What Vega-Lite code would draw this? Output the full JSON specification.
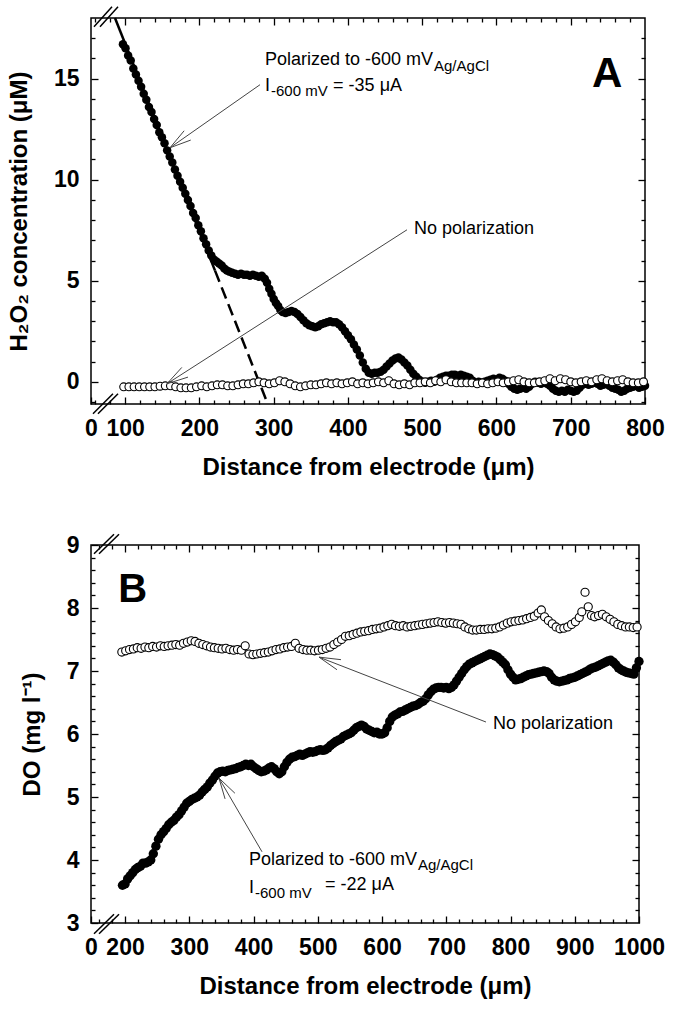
{
"$schema": "https://vega.github.io/schema/vega-lite/v6.json",
"background": "white",
"padding": {"left": 6, "top": 5, "right": 5, "bottom": 5},
"bounds": "flush",
"spacing": 141,
"config": {
 "view": {"stroke": "black", "strokeWidth": 1.5},
 "axis": {"domain": false, "grid": false, "tickColor": "black", "tickWidth": 1.3, "labelColor": "black", "labelFont": "Liberation Sans", "labelFontSize": 23, "labelFontWeight": "bold", "labelFlush": false, "labelOverlap": false, "titleColor": "black", "titleFont": "Liberation Sans", "titleFontSize": 24, "titleFontWeight": "bold"},
 "text": {"font": "Liberation Sans", "color": "black"}
},
"datasets": {
 "A_pol": [
  {"x":97,"y":16.7},{"x":100.5,"y":16.5},{"x":104,"y":16.15},{"x":107.5,"y":15.9},{"x":111,"y":15.5},{"x":114.5,"y":15.2},{"x":118,"y":14.9},{"x":121.5,"y":14.6},{"x":125,"y":14.25},{"x":128.5,"y":13.95},{"x":132,"y":13.6},{"x":135.5,"y":13.35},{"x":139,"y":13.0},{"x":142.5,"y":12.7},{"x":146,"y":12.35},{"x":149.5,"y":12.1},{"x":153,"y":11.8},{"x":156.5,"y":11.45},{"x":160,"y":11.15},{"x":163.5,"y":10.85},{"x":167,"y":10.5},{"x":170.5,"y":10.2},{"x":174,"y":9.9},{"x":177.5,"y":9.6},{"x":181,"y":9.3},{"x":184.5,"y":9.0},{"x":188,"y":8.7},{"x":191.5,"y":8.35},{"x":195,"y":8.1},{"x":198.5,"y":7.75},{"x":202,"y":7.45},{"x":205.5,"y":7.1},{"x":209,"y":6.8},{"x":212.5,"y":6.5},{"x":216,"y":6.25},{"x":219.5,"y":6.05},{"x":223,"y":5.95},{"x":226.5,"y":5.85},{"x":230,"y":5.75},{"x":233.5,"y":5.6},{"x":237,"y":5.5},{"x":240.5,"y":5.45},{"x":244,"y":5.4},{"x":248,"y":5.35},{"x":252,"y":5.3},{"x":256,"y":5.35},{"x":260,"y":5.3},{"x":264,"y":5.3},{"x":268,"y":5.25},{"x":272,"y":5.3},{"x":276,"y":5.25},{"x":280,"y":5.2},{"x":284,"y":5.25},{"x":288,"y":5.1},{"x":291,"y":4.9},{"x":294,"y":4.6},{"x":297,"y":4.35},{"x":300,"y":4.1},{"x":303,"y":3.9},{"x":306,"y":3.75},{"x":309,"y":3.55},{"x":312,"y":3.45},{"x":316,"y":3.4},{"x":320,"y":3.45},{"x":324,"y":3.5},{"x":328,"y":3.45},{"x":332,"y":3.35},{"x":336,"y":3.2},{"x":340,"y":3.05},{"x":344,"y":2.9},{"x":348,"y":2.8},{"x":352,"y":2.75},{"x":356,"y":2.7},{"x":360,"y":2.75},{"x":364,"y":2.85},{"x":368,"y":2.9},{"x":372,"y":2.95},{"x":376,"y":3.0},{"x":380,"y":2.95},{"x":384,"y":2.95},{"x":388,"y":2.85},{"x":392,"y":2.7},{"x":396,"y":2.5},{"x":400,"y":2.3},{"x":404,"y":2.1},{"x":408,"y":1.85},{"x":412,"y":1.6},{"x":416,"y":1.3},{"x":420,"y":0.95},{"x":424,"y":0.65},{"x":428,"y":0.45},{"x":432,"y":0.4},{"x":436,"y":0.45},{"x":440,"y":0.45},{"x":444,"y":0.5},{"x":448,"y":0.6},{"x":452,"y":0.75},{"x":456,"y":0.9},{"x":460,"y":1.05},{"x":464,"y":1.15},{"x":468,"y":1.2},{"x":472,"y":1.1},{"x":476,"y":0.95},{"x":480,"y":0.8},{"x":484,"y":0.6},{"x":488,"y":0.4},{"x":492,"y":0.25},{"x":496,"y":0.1},{"x":500,"y":0.0},{"x":504,"y":-0.05},{"x":508,"y":0.0},{"x":512,"y":0.05},{"x":516,"y":0.0},{"x":520,"y":0.1},{"x":524,"y":0.2},{"x":528,"y":0.25},{"x":532,"y":0.3},{"x":536,"y":0.3},{"x":540,"y":0.35},{"x":544,"y":0.35},{"x":548,"y":0.3},{"x":552,"y":0.35},{"x":556,"y":0.3},{"x":560,"y":0.25},{"x":564,"y":0.2},{"x":568,"y":0.05},{"x":572,"y":-0.05},{"x":576,"y":0.0},{"x":580,"y":-0.05},{"x":584,"y":0.0},{"x":588,"y":0.05},{"x":592,"y":0.1},{"x":596,"y":0.15},{"x":600,"y":0.1},{"x":604,"y":0.2},{"x":608,"y":0.15},{"x":612,"y":0.05},{"x":616,"y":-0.1},{"x":620,"y":-0.25},{"x":624,"y":-0.35},{"x":628,"y":-0.4},{"x":632,"y":-0.35},{"x":636,"y":-0.3},{"x":640,"y":-0.35},{"x":644,"y":-0.25},{"x":648,"y":-0.1},{"x":652,"y":0.0},{"x":656,"y":-0.05},{"x":660,"y":-0.1},{"x":664,"y":-0.05},{"x":668,"y":-0.1},{"x":672,"y":-0.2},{"x":676,"y":-0.35},{"x":680,"y":-0.45},{"x":684,"y":-0.5},{"x":688,"y":-0.45},{"x":692,"y":-0.5},{"x":696,"y":-0.4},{"x":700,"y":-0.45},{"x":704,"y":-0.5},{"x":708,"y":-0.45},{"x":712,"y":-0.3},{"x":716,"y":-0.15},{"x":720,"y":-0.1},{"x":724,"y":-0.15},{"x":728,"y":-0.1},{"x":732,"y":-0.05},{"x":736,"y":-0.1},{"x":740,"y":-0.2},{"x":744,"y":-0.15},{"x":748,"y":-0.1},{"x":752,"y":-0.2},{"x":756,"y":-0.3},{"x":760,"y":-0.35},{"x":764,"y":-0.4},{"x":768,"y":-0.5},{"x":772,"y":-0.45},{"x":776,"y":-0.35},{"x":780,"y":-0.3},{"x":784,"y":-0.25},{"x":788,"y":-0.2},{"x":792,"y":-0.3},{"x":796,"y":-0.25},{"x":800,"y":-0.2}
 ],
 "A_none": [
  {"x":98,"y":-0.25},{"x":105,"y":-0.25},{"x":112,"y":-0.25},{"x":119,"y":-0.25},{"x":126,"y":-0.25},{"x":133,"y":-0.25},{"x":140,"y":-0.25},{"x":147,"y":-0.22},{"x":154,"y":-0.2},{"x":161,"y":-0.2},{"x":168,"y":-0.25},{"x":175,"y":-0.3},{"x":182,"y":-0.3},{"x":189,"y":-0.3},{"x":196,"y":-0.25},{"x":203,"y":-0.2},{"x":210,"y":-0.25},{"x":217,"y":-0.2},{"x":224,"y":-0.15},{"x":231,"y":-0.15},{"x":238,"y":-0.2},{"x":245,"y":-0.2},{"x":252,"y":-0.15},{"x":259,"y":-0.1},{"x":266,"y":-0.1},{"x":273,"y":-0.05},{"x":280,"y":0.0},{"x":287,"y":-0.05},{"x":294,"y":-0.1},{"x":301,"y":-0.05},{"x":308,"y":0.05},{"x":315,"y":0.0},{"x":322,"y":-0.1},{"x":329,"y":-0.2},{"x":336,"y":-0.25},{"x":343,"y":-0.2},{"x":350,"y":-0.15},{"x":357,"y":-0.15},{"x":364,"y":-0.1},{"x":371,"y":-0.05},{"x":378,"y":-0.1},{"x":385,"y":-0.05},{"x":392,"y":-0.1},{"x":399,"y":-0.05},{"x":406,"y":0.0},{"x":413,"y":-0.1},{"x":420,"y":-0.05},{"x":427,"y":-0.1},{"x":434,"y":-0.05},{"x":441,"y":0.0},{"x":448,"y":-0.05},{"x":455,"y":0.05},{"x":462,"y":-0.1},{"x":469,"y":-0.15},{"x":476,"y":-0.1},{"x":483,"y":-0.15},{"x":490,"y":-0.05},{"x":497,"y":-0.05},{"x":504,"y":0.0},{"x":511,"y":-0.05},{"x":518,"y":0.05},{"x":525,"y":0.0},{"x":532,"y":0.1},{"x":539,"y":0.0},{"x":546,"y":-0.05},{"x":553,"y":-0.05},{"x":560,"y":-0.05},{"x":567,"y":-0.05},{"x":574,"y":-0.1},{"x":581,"y":-0.05},{"x":588,"y":-0.1},{"x":595,"y":-0.05},{"x":602,"y":0.0},{"x":609,"y":-0.05},{"x":616,"y":0.0},{"x":623,"y":0.05},{"x":630,"y":0.1},{"x":637,"y":0.0},{"x":644,"y":-0.05},{"x":651,"y":-0.05},{"x":658,"y":0.0},{"x":665,"y":0.05},{"x":672,"y":0.15},{"x":679,"y":0.05},{"x":686,"y":0.15},{"x":693,"y":0.1},{"x":700,"y":0.0},{"x":707,"y":-0.05},{"x":714,"y":0.0},{"x":721,"y":0.05},{"x":728,"y":0.0},{"x":735,"y":0.1},{"x":742,"y":0.15},{"x":749,"y":0.05},{"x":756,"y":0.0},{"x":763,"y":0.05},{"x":770,"y":0.1},{"x":777,"y":0.0},{"x":784,"y":-0.05},{"x":791,"y":-0.05},{"x":798,"y":0.0}
 ],
 "B_pol": [
  {"x":196,"y":3.6},{"x":200,"y":3.62},{"x":204,"y":3.7},{"x":208,"y":3.75},{"x":212,"y":3.8},{"x":216,"y":3.85},{"x":220,"y":3.88},{"x":224,"y":3.9},{"x":228,"y":3.95},{"x":232,"y":3.95},{"x":236,"y":3.97},{"x":240,"y":4.0},{"x":244,"y":4.1},{"x":248,"y":4.22},{"x":252,"y":4.33},{"x":256,"y":4.4},{"x":260,"y":4.45},{"x":264,"y":4.5},{"x":268,"y":4.56},{"x":272,"y":4.6},{"x":276,"y":4.63},{"x":280,"y":4.68},{"x":284,"y":4.72},{"x":288,"y":4.78},{"x":292,"y":4.84},{"x":296,"y":4.9},{"x":300,"y":4.93},{"x":304,"y":4.96},{"x":308,"y":4.98},{"x":312,"y":5.0},{"x":316,"y":5.03},{"x":320,"y":5.08},{"x":324,"y":5.12},{"x":328,"y":5.16},{"x":332,"y":5.22},{"x":336,"y":5.27},{"x":340,"y":5.33},{"x":344,"y":5.38},{"x":348,"y":5.4},{"x":352,"y":5.41},{"x":356,"y":5.4},{"x":360,"y":5.42},{"x":364,"y":5.43},{"x":368,"y":5.44},{"x":372,"y":5.45},{"x":376,"y":5.47},{"x":380,"y":5.48},{"x":384,"y":5.5},{"x":388,"y":5.52},{"x":392,"y":5.5},{"x":396,"y":5.52},{"x":400,"y":5.48},{"x":404,"y":5.45},{"x":408,"y":5.42},{"x":412,"y":5.4},{"x":416,"y":5.41},{"x":420,"y":5.43},{"x":424,"y":5.46},{"x":428,"y":5.48},{"x":432,"y":5.45},{"x":436,"y":5.4},{"x":440,"y":5.37},{"x":444,"y":5.4},{"x":448,"y":5.48},{"x":452,"y":5.55},{"x":456,"y":5.6},{"x":460,"y":5.63},{"x":464,"y":5.64},{"x":468,"y":5.66},{"x":472,"y":5.68},{"x":476,"y":5.66},{"x":480,"y":5.68},{"x":484,"y":5.7},{"x":488,"y":5.72},{"x":492,"y":5.71},{"x":496,"y":5.72},{"x":500,"y":5.74},{"x":504,"y":5.75},{"x":508,"y":5.74},{"x":512,"y":5.75},{"x":516,"y":5.78},{"x":520,"y":5.82},{"x":524,"y":5.85},{"x":528,"y":5.88},{"x":532,"y":5.9},{"x":536,"y":5.92},{"x":540,"y":5.96},{"x":544,"y":5.98},{"x":548,"y":6.0},{"x":552,"y":6.02},{"x":556,"y":6.06},{"x":560,"y":6.1},{"x":564,"y":6.12},{"x":568,"y":6.14},{"x":572,"y":6.12},{"x":576,"y":6.08},{"x":580,"y":6.06},{"x":584,"y":6.04},{"x":588,"y":6.02},{"x":592,"y":6.03},{"x":596,"y":6.0},{"x":600,"y":6.0},{"x":604,"y":6.02},{"x":608,"y":6.1},{"x":612,"y":6.2},{"x":616,"y":6.27},{"x":620,"y":6.3},{"x":624,"y":6.32},{"x":628,"y":6.35},{"x":632,"y":6.36},{"x":636,"y":6.38},{"x":640,"y":6.4},{"x":644,"y":6.42},{"x":648,"y":6.44},{"x":652,"y":6.45},{"x":656,"y":6.47},{"x":660,"y":6.5},{"x":664,"y":6.52},{"x":668,"y":6.56},{"x":672,"y":6.62},{"x":676,"y":6.67},{"x":680,"y":6.71},{"x":684,"y":6.73},{"x":688,"y":6.74},{"x":692,"y":6.74},{"x":696,"y":6.73},{"x":700,"y":6.74},{"x":704,"y":6.72},{"x":708,"y":6.74},{"x":712,"y":6.78},{"x":716,"y":6.84},{"x":720,"y":6.9},{"x":724,"y":6.96},{"x":728,"y":7.02},{"x":732,"y":7.07},{"x":736,"y":7.11},{"x":740,"y":7.13},{"x":744,"y":7.15},{"x":748,"y":7.17},{"x":752,"y":7.19},{"x":756,"y":7.21},{"x":760,"y":7.23},{"x":764,"y":7.25},{"x":768,"y":7.27},{"x":772,"y":7.26},{"x":776,"y":7.24},{"x":780,"y":7.22},{"x":784,"y":7.18},{"x":788,"y":7.14},{"x":792,"y":7.1},{"x":796,"y":7.02},{"x":800,"y":6.95},{"x":804,"y":6.9},{"x":808,"y":6.86},{"x":812,"y":6.87},{"x":816,"y":6.88},{"x":820,"y":6.9},{"x":824,"y":6.92},{"x":828,"y":6.94},{"x":832,"y":6.95},{"x":836,"y":6.96},{"x":840,"y":6.97},{"x":844,"y":6.98},{"x":848,"y":6.99},{"x":852,"y":7.0},{"x":856,"y":6.99},{"x":860,"y":6.96},{"x":864,"y":6.9},{"x":868,"y":6.86},{"x":872,"y":6.84},{"x":876,"y":6.83},{"x":880,"y":6.84},{"x":884,"y":6.85},{"x":888,"y":6.86},{"x":892,"y":6.88},{"x":896,"y":6.89},{"x":900,"y":6.9},{"x":904,"y":6.92},{"x":908,"y":6.94},{"x":912,"y":6.96},{"x":916,"y":6.98},{"x":920,"y":7.0},{"x":924,"y":7.03},{"x":928,"y":7.05},{"x":932,"y":7.06},{"x":936,"y":7.08},{"x":940,"y":7.1},{"x":944,"y":7.12},{"x":948,"y":7.14},{"x":952,"y":7.16},{"x":956,"y":7.17},{"x":960,"y":7.14},{"x":964,"y":7.1},{"x":968,"y":7.05},{"x":972,"y":7.02},{"x":976,"y":7.0},{"x":980,"y":6.98},{"x":984,"y":6.97},{"x":988,"y":6.96},{"x":992,"y":6.95},{"x":996,"y":7.05},{"x":1000,"y":7.15}
 ],
 "B_none": [
  {"x":195,"y":7.3},{"x":201,"y":7.32},{"x":207,"y":7.34},{"x":213,"y":7.35},{"x":219,"y":7.37},{"x":225,"y":7.36},{"x":231,"y":7.38},{"x":237,"y":7.37},{"x":243,"y":7.39},{"x":249,"y":7.38},{"x":255,"y":7.4},{"x":261,"y":7.39},{"x":267,"y":7.4},{"x":273,"y":7.41},{"x":279,"y":7.42},{"x":285,"y":7.41},{"x":291,"y":7.44},{"x":297,"y":7.46},{"x":303,"y":7.48},{"x":309,"y":7.47},{"x":315,"y":7.44},{"x":321,"y":7.42},{"x":327,"y":7.4},{"x":333,"y":7.38},{"x":339,"y":7.37},{"x":345,"y":7.36},{"x":351,"y":7.35},{"x":357,"y":7.36},{"x":363,"y":7.34},{"x":369,"y":7.33},{"x":375,"y":7.34},{"x":381,"y":7.33},{"x":387,"y":7.4},{"x":393,"y":7.27},{"x":399,"y":7.26},{"x":405,"y":7.27},{"x":411,"y":7.28},{"x":417,"y":7.29},{"x":423,"y":7.3},{"x":429,"y":7.32},{"x":435,"y":7.34},{"x":441,"y":7.35},{"x":447,"y":7.37},{"x":453,"y":7.38},{"x":459,"y":7.39},{"x":465,"y":7.44},{"x":471,"y":7.36},{"x":477,"y":7.34},{"x":483,"y":7.33},{"x":489,"y":7.33},{"x":495,"y":7.32},{"x":501,"y":7.33},{"x":507,"y":7.34},{"x":513,"y":7.36},{"x":519,"y":7.38},{"x":525,"y":7.42},{"x":531,"y":7.46},{"x":537,"y":7.5},{"x":543,"y":7.55},{"x":549,"y":7.56},{"x":555,"y":7.58},{"x":561,"y":7.6},{"x":567,"y":7.62},{"x":573,"y":7.63},{"x":579,"y":7.64},{"x":585,"y":7.66},{"x":591,"y":7.67},{"x":597,"y":7.68},{"x":603,"y":7.7},{"x":609,"y":7.72},{"x":615,"y":7.74},{"x":621,"y":7.72},{"x":627,"y":7.71},{"x":633,"y":7.72},{"x":639,"y":7.7},{"x":645,"y":7.71},{"x":651,"y":7.72},{"x":657,"y":7.73},{"x":663,"y":7.74},{"x":669,"y":7.75},{"x":675,"y":7.76},{"x":681,"y":7.77},{"x":687,"y":7.78},{"x":693,"y":7.77},{"x":699,"y":7.76},{"x":705,"y":7.77},{"x":711,"y":7.76},{"x":717,"y":7.75},{"x":723,"y":7.74},{"x":729,"y":7.7},{"x":735,"y":7.67},{"x":741,"y":7.65},{"x":747,"y":7.65},{"x":753,"y":7.66},{"x":759,"y":7.66},{"x":765,"y":7.67},{"x":771,"y":7.67},{"x":777,"y":7.68},{"x":783,"y":7.7},{"x":789,"y":7.73},{"x":795,"y":7.76},{"x":801,"y":7.78},{"x":807,"y":7.79},{"x":813,"y":7.8},{"x":819,"y":7.81},{"x":825,"y":7.83},{"x":831,"y":7.85},{"x":837,"y":7.87},{"x":843,"y":7.92},{"x":848,"y":7.97},{"x":853,"y":7.86},{"x":859,"y":7.8},{"x":865,"y":7.75},{"x":871,"y":7.7},{"x":877,"y":7.67},{"x":883,"y":7.68},{"x":889,"y":7.7},{"x":895,"y":7.74},{"x":901,"y":7.78},{"x":907,"y":7.85},{"x":911,"y":7.94},{"x":916,"y":8.25},{"x":921,"y":8.02},{"x":926,"y":7.88},{"x":931,"y":7.86},{"x":937,"y":7.88},{"x":943,"y":7.9},{"x":949,"y":7.86},{"x":955,"y":7.82},{"x":961,"y":7.78},{"x":967,"y":7.74},{"x":973,"y":7.72},{"x":979,"y":7.7},{"x":985,"y":7.7},{"x":991,"y":7.69},{"x":997,"y":7.7}
 ],
 "A_text": [
  {"x":288.3,"y":15.94,"t":"Polarized to -600 mV"},
  {"x":288.3,"y":14.65,"t":"I"},
  {"x":380,"y":14.65,"t":"= -35 μA"},
  {"x":489,"y":7.57,"t":"No polarization"}
 ],
 "A_sub": [
  {"x":515.9,"y":15.64,"t":"Ag/AgCl"},
  {"x":296.4,"y":14.4,"t":"-600 mV"}
 ],
 "A_arrows": [
  {"x":281.6,"y":14.7,"x2":160.4,"y2":11.58},
  {"x":160.4,"y":11.58,"x2":188.3,"y2":11.96},
  {"x":160.4,"y":11.58,"x2":179.4,"y2":12.42},
  {"x":479.5,"y":7.52,"x2":156.3,"y2":-0.1},
  {"x":156.3,"y":-0.1,"x2":184.6,"y2":0.23},
  {"x":156.3,"y":-0.1,"x2":176.3,"y2":0.71}
 ],
 "A_breaks": [
  {"x":56.7,"y":-1.58,"x2":83.6,"y2":-0.59},
  {"x":63.4,"y":-1.58,"x2":90.4,"y2":-0.59},
  {"x":58,"y":17.57,"x2":82.3,"y2":18.56},
  {"x":66.1,"y":17.57,"x2":90.4,"y2":18.56}
 ],
 "B_text": [
  {"x":392.9,"y":4.0,"t":"Polarized to -600 mV"},
  {"x":392.9,"y":3.56,"t":"I"},
  {"x":511.2,"y":3.6,"t":"= -22 μA"},
  {"x":772.7,"y":6.16,"t":"No polarization"}
 ],
 "B_sub": [
  {"x":656,"y":3.92,"t":"Ag/AgCl"},
  {"x":402.3,"y":3.48,"t":"-600 mV"}
 ],
 "B_arrows": [
  {"x":761.8,"y":6.19,"x2":501.9,"y2":7.22},
  {"x":501.9,"y":7.22,"x2":536.1,"y2":7.18},
  {"x":501.9,"y":7.22,"x2":529.9,"y2":7.02},
  {"x":413.2,"y":4.13,"x2":346.2,"y2":5.3},
  {"x":346.2,"y":5.3,"x2":371.0,"y2":5.06},
  {"x":346.2,"y":5.3,"x2":355.7,"y2":4.97}
 ],
 "B_breaks": [
  {"x":151.7,"y":2.83,"x2":182.8,"y2":3.14},
  {"x":159.5,"y":2.83,"x2":190.6,"y2":3.14},
  {"x":151.7,"y":8.86,"x2":182.8,"y2":9.17},
  {"x":159.5,"y":8.86,"x2":190.6,"y2":9.17}
 ]
},
"vconcat": [
 {
  "width": 554, "height": 386,
  "encoding": {
   "x": {"field": "x", "type": "quantitative", "scale": {"domain": [54, 800], "nice": false, "zero": false}, "axis": null},
   "y": {"field": "y", "type": "quantitative", "scale": {"domain": [-1.1, 18], "nice": false, "zero": false}, "axis": null}
  },
  "resolve": {"axis": {"x": "independent", "y": "independent"}},
  "layer": [
   {"data": {"values": [{"x":86.3,"y":18,"x2":221,"y2":5.5}]}, "mark": {"type": "rule", "color": "black", "strokeWidth": 2.5}, "encoding": {"x2": {"field": "x2"}, "y2": {"field": "y2"}}},
   {"data": {"values": [{"x":221,"y":5.5,"x2":291,"y2":-1.0}]}, "mark": {"type": "rule", "color": "black", "strokeWidth": 2.5, "strokeDash": [12, 6]}, "encoding": {"x2": {"field": "x2"}, "y2": {"field": "y2"}}},
   {"data": {"name": "A_pol"}, "mark": {"type": "point", "shape": "circle", "filled": true, "color": "black", "size": 72, "opacity": 1},
    "encoding": {
     "x": {"field": "x", "type": "quantitative", "scale": {"domain": [54, 800], "nice": false, "zero": false},
      "axis": {"orient": "bottom", "values": [54,100,200,300,400,500,600,700,800], "labelExpr": "datum.value < 60 ? '0' : datum.label", "tickSize": -7, "labelPadding": 20, "title": "Distance from electrode (μm)", "titlePadding": 15}},
     "y": {"field": "y", "type": "quantitative", "scale": {"domain": [-1.1, 18], "nice": false, "zero": false},
      "axis": {"orient": "left", "values": [0,5,10,15], "tickSize": -7, "labelPadding": 19, "title": "H₂O₂ concentration (μM)", "titlePadding": 22}}
    }},
   {"data": {"name": "A_pol"}, "mark": {"type": "point", "opacity": 0},
    "encoding": {
     "x": {"field": "x", "type": "quantitative", "scale": {"domain": [54, 800], "nice": false, "zero": false},
      "axis": {"orient": "bottom", "values": [60,80,120,140,160,180,220,240,260,280,320,340,360,380,420,440,460,480,520,540,560,580,620,640,660,680,720,740,760,780], "tickSize": -4, "labels": false, "title": null}},
     "y": {"field": "y", "type": "quantitative", "scale": {"domain": [-1.1, 18], "nice": false, "zero": false},
      "axis": {"orient": "left", "values": [-1,1,2,3,4,6,7,8,9,11,12,13,14,16,17], "tickSize": -4, "labels": false, "title": null}}
    }},
   {"data": {"name": "A_pol"}, "mark": {"type": "point", "opacity": 0},
    "encoding": {
     "x": {"field": "x", "type": "quantitative", "scale": {"domain": [54, 800], "nice": false, "zero": false},
      "axis": {"orient": "top", "values": [100,200,300,400,500,600,700], "tickSize": -7, "labels": false, "title": null}},
     "y": {"field": "y", "type": "quantitative", "scale": {"domain": [-1.1, 18], "nice": false, "zero": false},
      "axis": {"orient": "right", "values": [0,5,10,15], "tickSize": -7, "labels": false, "title": null}}
    }},
   {"data": {"name": "A_pol"}, "mark": {"type": "point", "opacity": 0},
    "encoding": {
     "x": {"field": "x", "type": "quantitative", "scale": {"domain": [54, 800], "nice": false, "zero": false},
      "axis": {"orient": "top", "values": [60,80,120,140,160,180,220,240,260,280,320,340,360,380,420,440,460,480,520,540,560,580,620,640,660,680,720,740,760,780], "tickSize": -4, "labels": false, "title": null}},
     "y": {"field": "y", "type": "quantitative", "scale": {"domain": [-1.1, 18], "nice": false, "zero": false},
      "axis": {"orient": "right", "values": [-1,1,2,3,4,6,7,8,9,11,12,13,14,16,17], "tickSize": -4, "labels": false, "title": null}}
    }},
   {"data": {"name": "A_none"}, "mark": {"type": "point", "shape": "circle", "filled": true, "fill": "white", "stroke": "black", "strokeWidth": 1.1, "size": 62, "opacity": 1}},
   {"data": {"name": "A_arrows"}, "mark": {"type": "rule", "color": "#444444", "strokeWidth": 1}, "encoding": {"x2": {"field": "x2"}, "y2": {"field": "y2"}}},
   {"data": {"name": "A_breaks"}, "mark": {"type": "rule", "color": "black", "strokeWidth": 1.5}, "encoding": {"x2": {"field": "x2"}, "y2": {"field": "y2"}}},
   {"data": {"name": "A_text"}, "mark": {"type": "text", "fontSize": 18, "align": "left", "baseline": "middle", "color": "black"}, "encoding": {"text": {"field": "t"}}},
   {"data": {"name": "A_sub"}, "mark": {"type": "text", "fontSize": 15, "align": "left", "baseline": "middle", "color": "black"}, "encoding": {"text": {"field": "t"}}},
   {"data": {"values": [{"x": 748.9, "y": 15.25, "t": "A"}]}, "mark": {"type": "text", "fontSize": 42, "fontWeight": "bold", "align": "center", "baseline": "middle", "color": "black"}, "encoding": {"text": {"field": "t"}}}
  ]
 },
 {
  "width": 548, "height": 378,
  "encoding": {
   "x": {"field": "x", "type": "quantitative", "scale": {"domain": [147, 1000], "nice": false, "zero": false}, "axis": null},
   "y": {"field": "y", "type": "quantitative", "scale": {"domain": [3, 9], "nice": false, "zero": false}, "axis": null}
  },
  "resolve": {"axis": {"x": "independent", "y": "independent"}},
  "layer": [
   {"data": {"name": "B_pol"}, "mark": {"type": "point", "shape": "circle", "filled": true, "color": "black", "size": 88, "opacity": 1},
    "encoding": {
     "x": {"field": "x", "type": "quantitative", "scale": {"domain": [147, 1000], "nice": false, "zero": false},
      "axis": {"orient": "bottom", "values": [147,200,300,400,500,600,700,800,900,1000], "format": "d", "labelExpr": "datum.value < 150 ? '0' : datum.label", "tickSize": -7, "labelPadding": 20, "title": "Distance from electrode (μm)", "titlePadding": 15}},
     "y": {"field": "y", "type": "quantitative", "scale": {"domain": [3, 9], "nice": false, "zero": false},
      "axis": {"orient": "left", "values": [3,4,5,6,7,8,9], "tickSize": -7, "labelPadding": 19, "title": "DO (mg l⁻¹)", "titlePadding": 22}}
    }},
   {"data": {"name": "B_pol"}, "mark": {"type": "point", "opacity": 0},
    "encoding": {
     "x": {"field": "x", "type": "quantitative", "scale": {"domain": [147, 1000], "nice": false, "zero": false},
      "axis": {"orient": "bottom", "values": [160,180,220,240,260,280,320,340,360,380,420,440,460,480,520,540,560,580,620,640,660,680,720,740,760,780,820,840,860,880,920,940,960,980], "tickSize": -4, "labels": false, "title": null}},
     "y": {"field": "y", "type": "quantitative", "scale": {"domain": [3, 9], "nice": false, "zero": false},
      "axis": {"orient": "left", "values": [3.2,3.4,3.6,3.8,4.2,4.4,4.6,4.8,5.2,5.4,5.6,5.8,6.2,6.4,6.6,6.8,7.2,7.4,7.6,7.8,8.2,8.4,8.6,8.8], "tickSize": -4, "labels": false, "title": null}}
    }},
   {"data": {"name": "B_pol"}, "mark": {"type": "point", "opacity": 0},
    "encoding": {
     "x": {"field": "x", "type": "quantitative", "scale": {"domain": [147, 1000], "nice": false, "zero": false},
      "axis": {"orient": "top", "values": [200,300,400,500,600,700,800,900], "tickSize": -7, "labels": false, "title": null}},
     "y": {"field": "y", "type": "quantitative", "scale": {"domain": [3, 9], "nice": false, "zero": false},
      "axis": {"orient": "right", "values": [4,5,6,7,8], "tickSize": -7, "labels": false, "title": null}}
    }},
   {"data": {"name": "B_pol"}, "mark": {"type": "point", "opacity": 0},
    "encoding": {
     "x": {"field": "x", "type": "quantitative", "scale": {"domain": [147, 1000], "nice": false, "zero": false},
      "axis": {"orient": "top", "values": [160,180,220,240,260,280,320,340,360,380,420,440,460,480,520,540,560,580,620,640,660,680,720,740,760,780,820,840,860,880,920,940,960,980], "tickSize": -4, "labels": false, "title": null}},
     "y": {"field": "y", "type": "quantitative", "scale": {"domain": [3, 9], "nice": false, "zero": false},
      "axis": {"orient": "right", "values": [3.2,3.4,3.6,3.8,4.2,4.4,4.6,4.8,5.2,5.4,5.6,5.8,6.2,6.4,6.6,6.8,7.2,7.4,7.6,7.8,8.2,8.4,8.6,8.8], "tickSize": -4, "labels": false, "title": null}}
    }},
   {"data": {"name": "B_none"}, "mark": {"type": "point", "shape": "circle", "filled": true, "fill": "white", "stroke": "black", "strokeWidth": 1.1, "size": 66, "opacity": 1}},
   {"data": {"name": "B_arrows"}, "mark": {"type": "rule", "color": "#444444", "strokeWidth": 1}, "encoding": {"x2": {"field": "x2"}, "y2": {"field": "y2"}}},
   {"data": {"name": "B_breaks"}, "mark": {"type": "rule", "color": "black", "strokeWidth": 1.5}, "encoding": {"x2": {"field": "x2"}, "y2": {"field": "y2"}}},
   {"data": {"name": "B_text"}, "mark": {"type": "text", "fontSize": 18, "align": "left", "baseline": "middle", "color": "black"}, "encoding": {"text": {"field": "t"}}},
   {"data": {"name": "B_sub"}, "mark": {"type": "text", "fontSize": 15, "align": "left", "baseline": "middle", "color": "black"}, "encoding": {"text": {"field": "t"}}},
   {"data": {"values": [{"x": 212, "y": 8.29, "t": "B"}]}, "mark": {"type": "text", "fontSize": 40, "fontWeight": "bold", "align": "center", "baseline": "middle", "color": "black"}, "encoding": {"text": {"field": "t"}}}
  ]
 }
]
}
